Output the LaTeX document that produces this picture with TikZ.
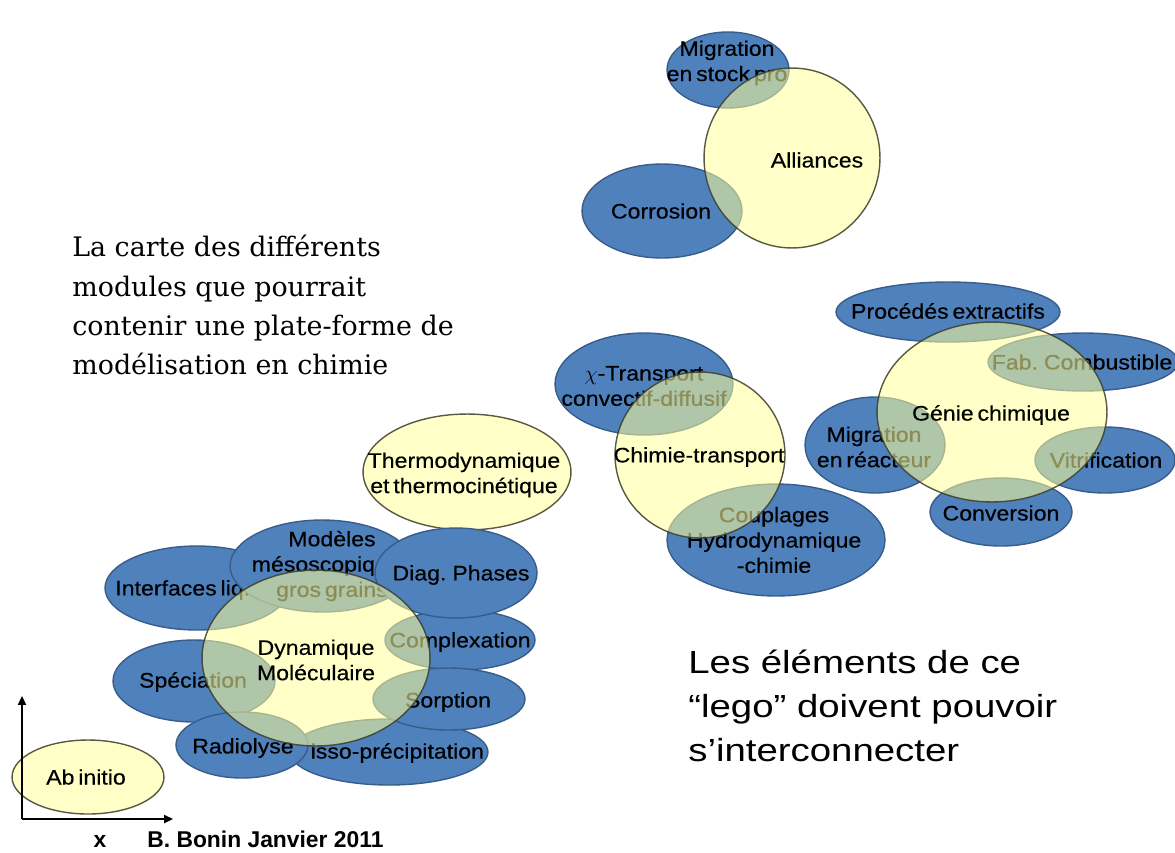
\documentclass[tikz,border=0pt]{standalone}
\usepackage{fontspec}
\setmainfont{Liberation Sans}
\newfontfamily\lblfont[FakeStretch=1.1,WordSpace=0.6,FakeBold=0.4]{Liberation Sans}
\newfontfamily\bigfont[FakeStretch=1.2]{Liberation Sans}
\newfontfamily\serfont{DejaVu Serif}
\usetikzlibrary{shapes.geometric,arrows.meta}
\definecolor{pblue}{HTML}{4F81BD}
\definecolor{pedge}{HTML}{385D8A}
\definecolor{pyel}{HTML}{FFFF99}
\definecolor{yedge}{HTML}{3C3C28}
\tikzset{
  bell/.style 2 args={ellipse, draw=pedge, fill=pblue, line width=0.8pt, inner sep=0pt,
    minimum width=#1*0.04cm, minimum height=#2*0.04cm},
  yell/.style 2 args={ellipse, draw=yedge, fill=pyel, fill opacity=0.55, draw opacity=0.85,
    line width=0.8pt, inner sep=0pt, minimum width=#1*0.04cm, minimum height=#2*0.04cm},
  lbl/.style={font=\lblfont\fontsize{11.95pt}{14.4pt}\selectfont, align=center, inner sep=0pt, text=black},
  axis/.style={line width=1.1pt, -{Triangle[length=5pt,width=4.5pt]}},
}
\begin{document}
\begin{tikzpicture}[x=0.02cm,y=-0.02cm]
\useasboundingbox (0,0) rectangle (1175,852);
\fill[white] (0,0) rectangle (1175,852);

% left text
\node[anchor=north west, inner sep=0pt, align=left, font=\serfont\fontsize{15.3pt}{22.3pt}\selectfont] (intro) at (72,235)
 {La carte des différents\\modules que pourrait\\contenir une plate-forme de\\modélisation en chimie};
% right text
\node[anchor=north west, inner sep=0pt, align=left, font=\bigfont\fontsize{18.2pt}{25pt}\selectfont] (lego) at (688,650)
 {Les éléments de ce\\“lego” doivent pouvoir\\s’interconnecter};

% standalone yellow ellipses
\node[yell={104}{58}] (thermo) at (467,472) {};
\node[lbl] (thermoL) at (464,475) {Thermodynamique\\et thermocinétique};
\node[yell={76}{37}] (abinit) at (88,777) {};
\node[lbl] (abinitL) at (86,777) {Ab initio};

% top group
\node[bell={61}{38}] (migs) at (728,70) {};
\node[lbl] (migsL) at (727,63) {Migration\\en stock pro};
\node[bell={80}{47}] (corr) at (662,211) {};
\node[lbl] (corrL) at (661,211) {Corrosion};
\node[yell={88}{90}] (all) at (792,158) {};
\node[lbl] (allL) at (817,160) {Alliances};

% middle group
\node[bell={89}{51}] (chi) at (644,384) {};
\node[lbl] (chiL) at (644,386) {$\chi$-Transport\\convectif-diffusif};
\node[bell={109}{56}] (coup) at (776,540) {};
\node[lbl] (coupL) at (774,540) {Couplages\\Hydrodynamique\\-chimie};
\node[yell={85}{83}] (ct) at (700,455) {};
\node[lbl] (ctL) at (699,457) {Chimie-transport};

% right group
\node[bell={112}{30}] (proc) at (948,312) {};
\node[lbl] (procL) at (948,311) {Procédés extractifs};
\node[bell={95}{29}] (fab) at (1083,362) {};
\node[lbl] (fabL) at (1082,362) {Fab. Combustible};
\node[bell={70}{48}] (migr) at (875,445) {};
\node[lbl] (migrL) at (874,447) {Migration\\en réacteur};
\node[bell={70}{33}] (vitr) at (1105,460) {};
\node[lbl] (vitrL) at (1106,460) {Vitrification};
\node[bell={71}{34}] (conv) at (1001,512) {};
\node[lbl] (convL) at (1001,513) {Conversion};
\node[yell={115}{90}] (genie) at (992,412) {};
\node[lbl] (genieL) at (991,415) {Génie chimique};

% bottom-left group
\node[bell={92}{42}] (interf) at (197,588) {};
\node[lbl, anchor=west] (interfL) at (115,590) {Interfaces liq..};
\node[bell={92}{46}] (meso) at (322,566) {};
\node[lbl] (mesoL) at (332,566) {Modèles\\mésoscopiq\phantom{ues}\\gros grains};
\node[bell={75}{30}] (compl) at (460,640) {};
\node[lbl] (complL) at (460,642) {Complexation};
\node[bell={81}{45}] (diag) at (456,573) {};
\node[lbl] (diagL) at (461,575) {Diag. Phases};
\node[bell={81}{41}] (spec) at (194,681) {};
\node[lbl] (specL) at (193,682) {Spéciation};
\node[bell={99}{33}] (disso) at (389,752) {};
\node[lbl] (dissoL) at (389,753) {\phantom{D}isso-précipitation};
\node[bell={76}{31}] (sorp) at (449,699) {};
\node[lbl] (sorpL) at (448,702) {Sorption};
\node[bell={66}{33}] (radio) at (242,745) {};
\node[lbl] (radioL) at (243,748) {Radiolyse};
\node[yell={114}{88}] (dyn) at (316,658) {};
\node[lbl] (dynL) at (316,660) {Dynamique\\Moléculaire};

% axes
\coordinate (orig) at (22,819);
\coordinate (ytop) at (22,696);
\coordinate (xend) at (173,819);
\draw[axis] (orig) -- (ytop);
\draw[axis] (orig) -- (xend);
\node[font=\bfseries\fontsize{13pt}{14pt}\selectfont, inner sep=0pt] (xl) at (100,841) {x};
\node[anchor=west, inner sep=0pt, font=\bfseries\fontsize{13pt}{14pt}\selectfont] (auth) at (147,839) {B. Bonin Janvier 2011};
\end{tikzpicture}
\end{document}
